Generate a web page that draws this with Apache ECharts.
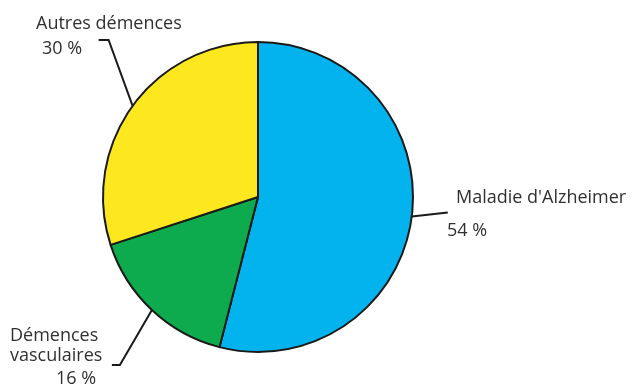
<!DOCTYPE html>
<html>
<head>
<meta charset="utf-8">
<script src="https://cdn.jsdelivr.net/npm/echarts@6/dist/echarts.min.js"></script>
<style>
  html, body { margin: 0; padding: 0; background: #ffffff; }
  #chart { width: 633px; height: 387px; }
</style>
</head>
<body>
<div id="chart"></div>
<script>
// Répartition des démences (en %)
const categories = ["Maladie d'Alzheimer", "Démences vasculaires", "Autres démences"];
const values = [54, 16, 30];
const nameLines = [["Maladie d'Alzheimer"], ["Démences", "vasculaires"], ["Autres démences"]];
const colors = ['#03b3ee', '#0eab4e', '#fde81f'];

const FONT = '"Open Sans", sans-serif';
const textColor = '#303030';

// Label block placement (top-left corner) and leader-line bends, per slice
const labelPlacement = [
  { x: 456, y: 183, bend: (p) => [[p[0] + 36, p[1] - 4]] },
  { x: 10, y: 326, bend: (p) => [[p[0] - 32, p[1] + 55], [p[0] - 40, p[1] + 55]] },
  { x: 36, y: 12, bend: (p) => [[p[0] - 24, p[1] - 66], [p[0] - 34, p[1] - 66]] }
];

const richStyles = [
  { n: { lineHeight: 30 }, v: { lineHeight: 36, padding: [0, 0, 0, -9] } },
  { n: { lineHeight: 20 }, v: { lineHeight: 26, padding: [0, 0, 0, 46] } },
  { n: { lineHeight: 24 }, v: { lineHeight: 26, padding: [0, 0, 0, 6] } }
];

const data = categories.map((name, i) => ({
  name: name,
  value: values[i],
  itemStyle: { color: colors[i] },
  label: {
    formatter: nameLines[i].map(t => '{n|' + t + '}').join('\n') + '\n{v|' + values[i] + ' %}',
    rich: richStyles[i]
  }
}));

const chart = echarts.init(document.getElementById('chart'), null, { renderer: 'canvas' });
chart.setOption({
  backgroundColor: '#ffffff',
  animation: false,
  series: [{
    type: 'pie',
    center: [258, 197],
    radius: [0, 155],
    startAngle: 90,
    clockwise: true,
    data: data,
    itemStyle: { borderColor: '#1a1a1a', borderWidth: 2 },
    emphasis: { disabled: true },
    label: {
      show: true,
      position: 'outside',
      color: textColor,
      fontFamily: FONT,
      fontSize: 18,
      align: 'left',
      overflow: 'none'
    },
    labelLine: {
      show: true,
      length: 10,
      length2: 10,
      lineStyle: { color: '#1a1a1a', width: 2 }
    },
    labelLayout: function (params) {
      const spot = labelPlacement[params.dataIndex];
      const start = params.labelLinePoints[0];
      return {
        x: spot.x,
        y: spot.y,
        align: 'left',
        verticalAlign: 'top',
        labelLinePoints: [start].concat(spot.bend(start))
      };
    }
  }]
});
</script>
</body>
</html>
